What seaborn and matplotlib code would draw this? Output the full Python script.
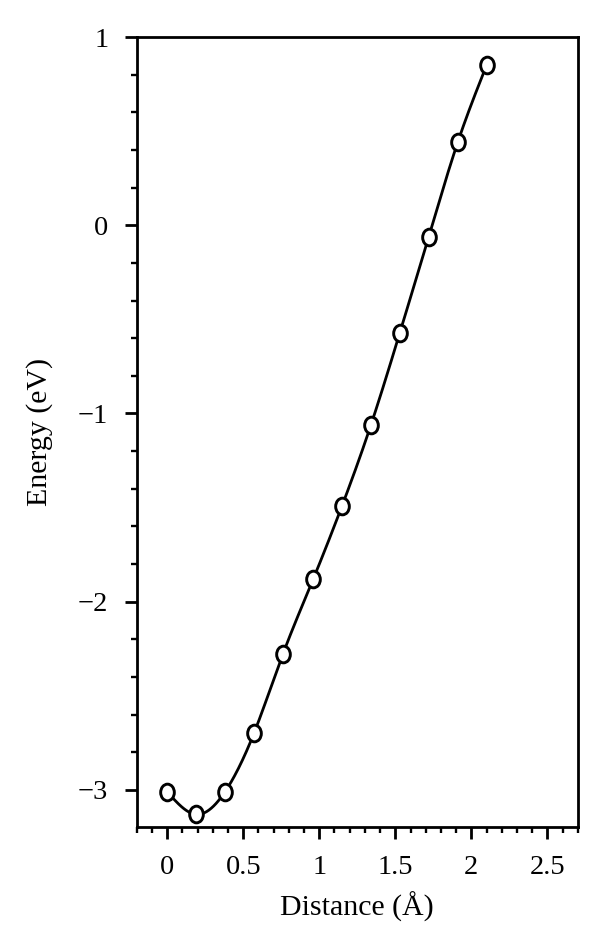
import numpy as np
import pandas as pd
import matplotlib
matplotlib.use("Agg")
import matplotlib.pyplot as plt
import seaborn as sns
from matplotlib.path import Path
from matplotlib.transforms import Affine2D
from matplotlib.ticker import MultipleLocator

distance = [0.0, 0.19, 0.38, 0.57, 0.76, 0.96, 1.15, 1.34, 1.53, 1.72, 1.91, 2.10]
energy = [-3.01, -3.13, -3.01, -2.70, -2.28, -1.88, -1.49, -1.06, -0.57, -0.06, 0.44, 0.85]
x_ticks = [0, 0.5, 1, 1.5, 2, 2.5]
x_tick_labels = ["0", "0.5", "1", "1.5", "2", "2.5"]
y_ticks = [-3, -2, -1, 0, 1]
y_tick_labels = ["\u22123", "\u22122", "\u22121", "0", "1"]

sns.set_theme(style="ticks")
plt.rcParams['font.family'] = ['Liberation Serif', 'DejaVu Serif']
plt.rcParams['axes.unicode_minus'] = True


def natural_spline(x, y, n=400):
    x = np.asarray(x, float); y = np.asarray(y, float)
    m = len(x); h = np.diff(x)
    A = np.zeros((m, m)); b = np.zeros(m)
    A[0, 0] = 1; A[-1, -1] = 1
    for i in range(1, m - 1):
        A[i, i - 1] = h[i - 1]; A[i, i] = 2 * (h[i - 1] + h[i]); A[i, i + 1] = h[i]
        b[i] = 6 * ((y[i + 1] - y[i]) / h[i] - (y[i] - y[i - 1]) / h[i - 1])
    M = np.linalg.solve(A, b)
    xs = np.linspace(x[0], x[-1], n)
    idx = np.clip(np.searchsorted(x, xs) - 1, 0, m - 2)
    x0 = x[idx]; x1 = x[idx + 1]; hh = x1 - x0
    ys = (M[idx] * (x1 - xs) ** 3 / (6 * hh) + M[idx + 1] * (xs - x0) ** 3 / (6 * hh)
          + (y[idx] / hh - M[idx] * hh / 6) * (x1 - xs)
          + (y[idx + 1] / hh - M[idx + 1] * hh / 6) * (xs - x0))
    return xs, ys


df = pd.DataFrame({"Distance": distance, "Energy": energy})
xs, ys = natural_spline(distance, energy)
curve = pd.DataFrame({"Distance": xs, "Energy": ys})

fig = plt.figure(figsize=(6.0, 9.46), dpi=100)
ax = fig.add_axes([0.228, 0.1258, 0.735, 0.835])

sns.lineplot(data=curve, x="Distance", y="Energy", ax=ax, color="black", lw=2.0, sort=False)

ell = Path.unit_circle().transformed(Affine2D().scale(0.82, 1.0))
sns.scatterplot(data=df, x="Distance", y="Energy", ax=ax, marker=ell, s=12 ** 2,
                facecolor="white", edgecolor="black", linewidth=2.1, zorder=5)

ax.set_xlim(-0.2, 2.7)
ax.set_ylim(-3.197, 1.0)
ax.set_xticks(x_ticks)
ax.set_xticklabels(x_tick_labels)
ax.set_yticks(y_ticks)
ax.set_yticklabels(y_tick_labels)
ax.xaxis.set_minor_locator(MultipleLocator(0.1))
ax.yaxis.set_minor_locator(MultipleLocator(0.2))
ax.tick_params(which="major", direction="out", length=8.5, width=2.0, labelsize=20.5, colors="black", pad=12)
ax.tick_params(which="minor", direction="out", length=4.5, width=1.7, colors="black")
ax.tick_params(top=False, right=False, which="both")
for s in ax.spines.values():
    s.set_linewidth(2.0)
    s.set_color("black")
ax.set_xlabel("Distance (\u00c5)", fontsize=21.5, labelpad=8, color="black")
ax.set_ylabel("Energy (eV)", fontsize=21.5, labelpad=18, color="black")

fig.savefig("out.png", dpi=100, facecolor="white")
